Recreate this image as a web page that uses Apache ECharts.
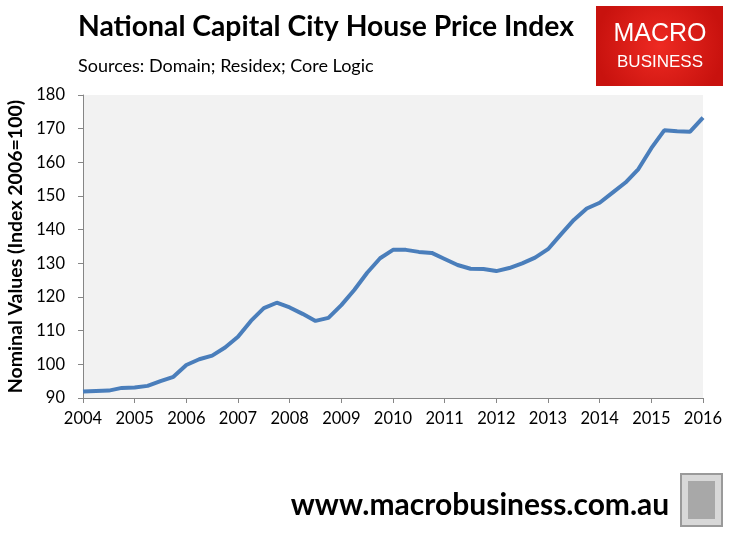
<!DOCTYPE html>
<html>
<head>
<meta charset="utf-8">
<script src="https://cdn.jsdelivr.net/npm/echarts@6/dist/echarts.min.js"></script>
<style>
html,body{margin:0;padding:0;background:#fff;}
#chart{width:738px;height:538px;}
</style>
</head>
<body>
<div id="chart"></div>
<script>
var years = ['2004','2005','2006','2007','2008','2009','2010','2011','2012','2013','2014','2015','2016'];
var quarters = [];
for (var y = 2004; y <= 2016; y++) {
  var nq = (y === 2016) ? 1 : 4;
  for (var q = 1; q <= nq; q++) quarters.push(y + 'Q' + q);
}
var indexValues = [
  91.9, 92.1, 92.2, 93.0, 93.1, 93.6, 95.0, 96.3,
  99.8, 101.5, 102.6, 105.0, 108.2, 112.9, 116.7, 118.3,
  116.9, 115.0, 112.9, 113.8, 117.6, 122.1, 127.2, 131.5,
  134.0, 134.0, 133.4, 133.1, 131.3, 129.5, 128.4, 128.3,
  127.7, 128.6, 130.0, 131.7, 134.2, 138.6, 142.9, 146.3,
  148.0, 151.0, 154.0, 158.0, 164.2, 169.5, 169.2, 169.1,
  173.3
];
var yTicks = [90, 100, 110, 120, 130, 140, 150, 160, 170, 180];

var chart = echarts.init(document.getElementById('chart'), null, {renderer: 'canvas'});
var font = 'Lato, "Open Sans", sans-serif';
chart.setOption({
  backgroundColor: '#ffffff',
  animation: false,
  grid: {left: 83, right: 35, top: 95, bottom: 140, show: true, backgroundColor: '#f2f2f2', borderWidth: 0,
    containLabel: false, outerBoundsMode: 'none'},
  xAxis: {
    type: 'category',
    data: quarters,
    boundaryGap: false,
    axisLine: {show: true, lineStyle: {color: '#868686', width: 1}},
    axisTick: {show: true, length: 5, lineStyle: {color: '#868686'}, interval: function (i) { return i % 4 === 0; }},
    axisLabel: {
      interval: function (i) { return i % 4 === 0; },
      formatter: function (v) { return v.slice(0, 4); },
      fontFamily: font, fontSize: 16.5, color: '#000', margin: 12
    },
    splitLine: {show: false}
  },
  yAxis: {
    type: 'value',
    min: yTicks[0],
    max: yTicks[yTicks.length - 1],
    interval: 10,
    name: 'Nominal Values (Index 2006=100)',
    nameLocation: 'middle',
    nameRotate: 90,
    nameGap: 56,
    nameTextStyle: {fontFamily: font, fontSize: 19.5, fontWeight: 'bold', color: '#000'},
    axisLine: {show: true, lineStyle: {color: '#868686', width: 1}},
    axisTick: {show: true, length: 5, lineStyle: {color: '#868686'}},
    axisLabel: {fontFamily: font, fontSize: 16.5, color: '#000', margin: 18},
    splitLine: {show: false}
  },
  series: [{
    type: 'line',
    data: indexValues,
    showSymbol: false,
    symbol: 'none',
    lineStyle: {color: '#4a7ebb', width: 4},
    itemStyle: {color: '#4a7ebb'}
  }],
  graphic: [
    {type: 'text', left: 78, top: 13, style: {text: 'National Capital City House Price Index', fontFamily: font, fontSize: 28.3, fontWeight: 'bold', fill: '#000'}},
    {type: 'text', left: 78, top: 57, style: {text: 'Sources: Domain; Residex; Core Logic', fontFamily: font, fontSize: 18, fill: '#000'}},
    {type: 'rect', shape: {x: 596, y: 6, width: 127, height: 80},
      style: {fill: new echarts.graphic.RadialGradient(0.5, 0.5, 0.8, [{offset: 0, color: '#ee2a22'}, {offset: 1, color: '#c8120e'}])}},
    {type: 'text', x: 660, y: 34, style: {text: 'MACRO', fontFamily: '"Liberation Sans", Arial, sans-serif', fontSize: 25, fill: '#fff', align: 'center', verticalAlign: 'middle'}},
    {type: 'text', x: 660, y: 62, style: {text: 'BUSINESS', fontFamily: '"Liberation Sans", Arial, sans-serif', fontSize: 17, fill: '#fff', align: 'center', verticalAlign: 'middle'}},
    {type: 'text', x: 480, y: 505, style: {text: 'www.macrobusiness.com.au', fontFamily: font, fontSize: 30, fontWeight: 'bold', fill: '#000', align: 'center', verticalAlign: 'middle'}},
    {type: 'rect', shape: {x: 681, y: 474, width: 41, height: 52}, style: {fill: '#d8d8d8', stroke: '#9a9a9a', lineWidth: 2}},
    {type: 'rect', shape: {x: 688, y: 481, width: 27, height: 38}, style: {fill: '#a8a8a8'}}
  ]
});
</script>
</body>
</html>
